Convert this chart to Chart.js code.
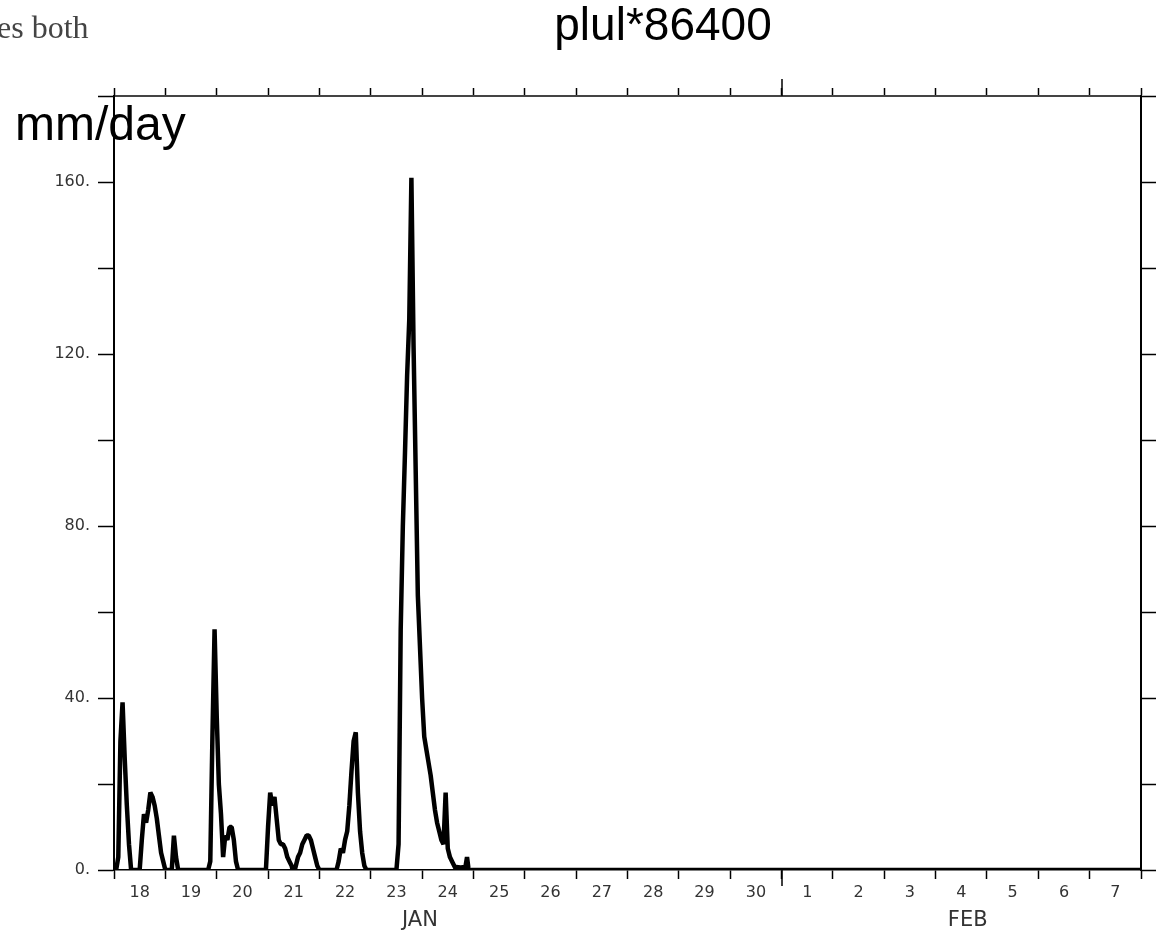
<!DOCTYPE html>
<html>
<head>
<meta charset="utf-8">
<title>plul*86400</title>
<script src="https://cdn.jsdelivr.net/npm/chart.js@4.4.1/dist/chart.umd.min.js"></script>
<style>
  html, body { margin: 0; padding: 0; background: #fff; }
  #wrap { position: relative; width: 1156px; height: 938px; }
</style>
</head>
<body>
<div id="wrap"><canvas id="rainChart"></canvas></div>
<script>
// hourly rain rate in mm/day, hour 0 = 18 JAN 00Z (one row per day)
const rainRate = [
  0, 0, 3, 30, 39, 26, 15, 6, 0, 0, 0, 0, 0, 7, 13, 11, 14, 18, 17, 15, 12, 8, 4, 2,
  0, 0, 0, 0, 8, 3, 0, 0, 0, 0, 0, 0, 0, 0, 0, 0, 0, 0, 0, 0, 0, 2, 31, 56,
  36, 20, 13, 3, 8, 7, 10, 10, 7, 2, 0, 0, 0, 0, 0, 0, 0, 0, 0, 0, 0, 0, 0, 0,
  10, 18, 15, 17, 12, 7, 6, 6, 5, 3, 2, 1, -1, 1, 3, 4, 6, 7, 8, 8, 7, 5, 3, 1,
  0, 0, 0, 0, 0, 0, 0, 0, 0, 2, 5, 4, 7, 9, 15, 23, 30, 32, 18, 9, 4, 1, 0, 0,
  0, 0, 0, 0, 0, 0, 0, 0, 0, 0, 0, 0, 0, 6, 56, 80, 97, 115, 128, 161, 122, 93, 64, 52,
  40, 31, 28, 25, 22, 18, 14, 11, 9, 7, 6, 18, 5, 3, 2, 1, 0, 1, -1, 1, 0, 3, -1, 0
];
// after the storm the rate stays at 0 until the end of the plot (8 FEB 00Z)
const endHour = 480;
const endRate = 0;

// day labels (360-day model calendar: 30 JAN is followed by 1 FEB)
const dayLabels = ['18', '19', '20', '21', '22', '23', '24', '25', '26', '27', '28', '29', '30',
  '1', '2', '3', '4', '5', '6', '7'];
const monthLabels = ['JAN', 'FEB'];
const monthLabelHours = [143, 399];
const monthStartHour = 312; // 1 FEB 00Z
const yLabelValues = [0, 40, 80, 120, 160];

const points = rainRate.map((v, i) => ({ x: i, y: v }));
points.push({ x: endHour, y: endRate });

const tickFont = { family: '"DejaVu Sans", sans-serif', size: 16 };

// extra texts and the long month tick
const annotatePlugin = {
  id: 'annotate',
  afterDraw(chart) {
    const ctx = chart.ctx;
    const xs = chart.scales.x;
    const area = chart.chartArea;
    ctx.save();
    const fx = Math.round(xs.getPixelForValue(monthStartHour));
    ctx.strokeStyle = '#000';
    ctx.lineWidth = 1.5;
    ctx.beginPath();
    ctx.moveTo(fx, area.top);
    ctx.lineTo(fx, area.top - 17);
    ctx.moveTo(fx, area.bottom);
    ctx.lineTo(fx, area.bottom + 16);
    ctx.stroke();

    ctx.fillStyle = '#333';
    ctx.font = '21px "DejaVu Sans", sans-serif';
    ctx.textAlign = 'center';
    ctx.textBaseline = 'middle';
    monthLabels.forEach((m, i) => {
      ctx.fillText(m, xs.getPixelForValue(monthLabelHours[i]), 921);
    });

    ctx.fillStyle = '#000';
    ctx.font = '46px "Liberation Sans", Arial, sans-serif';
    ctx.fillText('plul*86400', 663, 27);

    ctx.textAlign = 'left';
    ctx.textBaseline = 'alphabetic';
    ctx.font = '48px "Liberation Sans", Arial, sans-serif';
    ctx.fillText('mm/day', 15, 140);

    // scrap of page text in the corner
    ctx.fillStyle = '#444';
    ctx.font = '32px "Liberation Serif", serif';
    ctx.fillText('es both', -3, 38);
    ctx.restore();
  }
};

document.addEventListener('DOMContentLoaded', function () {
  const ctx = document.getElementById('rainChart').getContext('2d');
  new Chart(ctx, {
    type: 'line',
    data: {
      datasets: [{
        data: points,
        borderColor: '#000',
        borderWidth: 4.5,
        borderJoinStyle: 'bevel',
        pointRadius: 0,
        tension: 0,
        fill: false
      }]
    },
    options: {
      responsive: true,
      maintainAspectRatio: false,
      animation: false,
      layout: { padding: { left: 0, right: 0, top: 88, bottom: 0 } },
      plugins: {
        legend: { display: false },
        tooltip: { enabled: false }
      },
      scales: {
        x: {
          type: 'linear',
          position: 'bottom',
          min: 0,
          max: endHour,
          afterFit: s => { s.height = 68; },
          border: { display: true, color: '#000', width: 1.5 },
          grid: {
            drawOnChartArea: false,
            tickLength: 9,
            tickColor: '#000',
            tickWidth: c => (c.tick && c.tick.value % 24 === 0) ? 1.5 : 0
          },
          ticks: {
            stepSize: 12,
            autoSkip: false,
            maxRotation: 0,
            padding: 4,
            color: '#333',
            font: tickFont,
            callback: v => (v % 24 === 12) ? dayLabels[(v - 12) / 24] : ''
          }
        },
        xTop: {
          type: 'linear',
          position: 'top',
          min: 0,
          max: endHour,
          afterFit: s => { s.height = 8; },
          border: { display: true, color: '#444', width: 2 },
          grid: { drawOnChartArea: false, tickLength: 8, tickColor: '#000', tickWidth: 1.5 },
          ticks: { display: false, stepSize: 24 }
        },
        y: {
          position: 'left',
          min: 0,
          max: 180,
          afterFit: s => { s.width = 114; },
          border: { display: true, color: '#000', width: 2 },
          grid: { drawOnChartArea: false, tickLength: 16, tickColor: '#000', tickWidth: 1.5 },
          ticks: {
            stepSize: 20,
            padding: 8,
            color: '#333',
            font: tickFont,
            callback: v => yLabelValues.includes(v) ? v + '.' : ''
          }
        },
        yRight: {
          type: 'linear',
          position: 'right',
          min: 0,
          max: 180,
          afterFit: s => { s.width = 15; },
          border: { display: true, color: '#000', width: 2 },
          grid: { drawOnChartArea: false, tickLength: 15, tickColor: '#000', tickWidth: 1.5 },
          ticks: { display: false, stepSize: 20 }
        }
      }
    },
    plugins: [annotatePlugin]
  });
});
</script>
</body>
</html>
